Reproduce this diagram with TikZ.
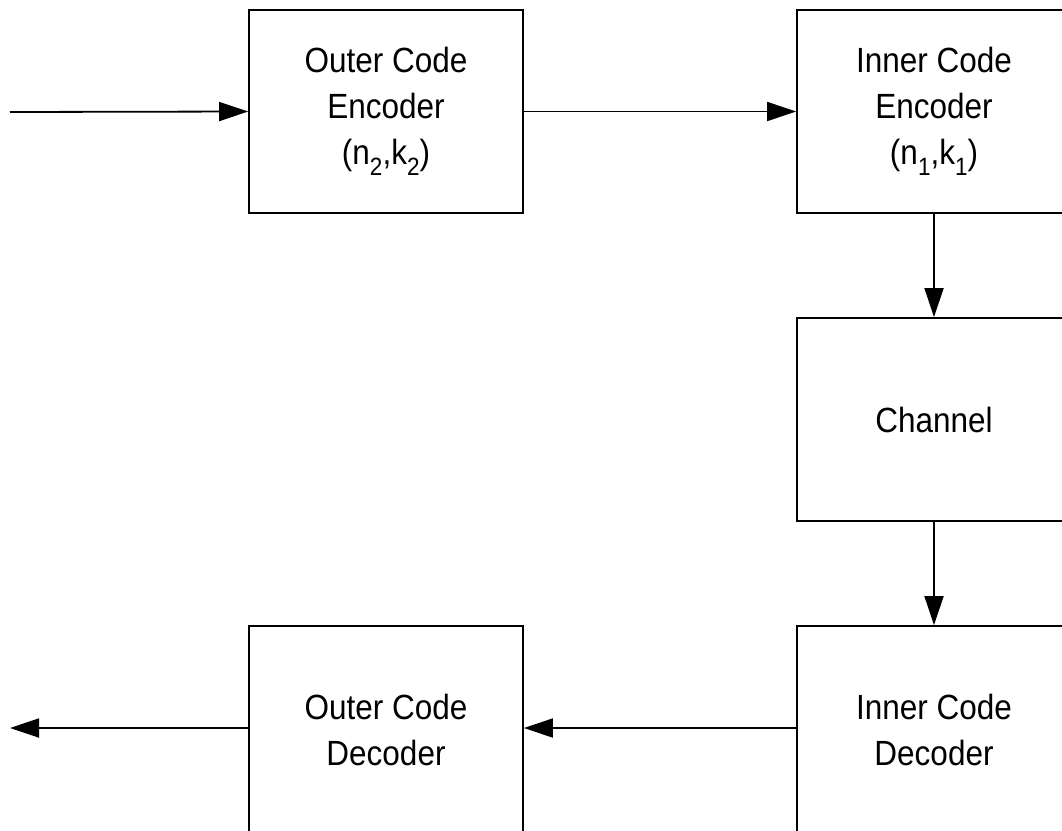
\documentclass[tikz,border=0pt]{standalone}
\usepackage{fontspec}
\setmainfont[FakeStretch=0.9]{Liberation Sans}
\usetikzlibrary{arrows.meta}
\newcommand\lowsub[1]{\raisebox{-0.32em}{\fontsize{25}{25}\selectfont #1}}
\tikzset{
  blockbox/.style={draw=black, line width=1.8pt, fill=white, minimum width=274pt, minimum height=203pt, inner sep=0pt, align=center, font=\fontsize{35}{46}\selectfont},
  flow/.style={line width=1.8pt, -{Triangle[length=29pt,width=19pt]}}
}
\begin{document}
\begin{tikzpicture}[x=1pt,y=-1pt]
\clip (0,0) rectangle (1062,830);
\fill[white] (0,0) rectangle (1062,830);
\node[blockbox] (oe) at (386,111.5) {Outer Code\\Encoder\\(n\lowsub{2},k\lowsub{2})};
\node[blockbox] (ie) at (934,111.5) {Inner Code\\Encoder\\(n\lowsub{1},k\lowsub{1})};
\node[blockbox] (ch) at (934,419.5) {Channel};
\node[blockbox, minimum height=208pt] (id) at (934,730) {Inner Code\\Decoder};
\node[blockbox, minimum height=208pt] (od) at (386,730) {Outer Code\\Decoder};
\coordinate (in) at (10,112);
\coordinate (out) at (10,728);
\draw[flow] (in) -- (oe.west);
\draw[flow] (oe.east) -- (ie.west);
\draw[flow] (ie.south) -- (ch.north);
\draw[flow] (ch.south) -- (id.north);
\draw[flow] (id.west |- out) -- (od.east |- out);
\draw[flow] (od.west |- out) -- (out);
\end{tikzpicture}
\end{document}
